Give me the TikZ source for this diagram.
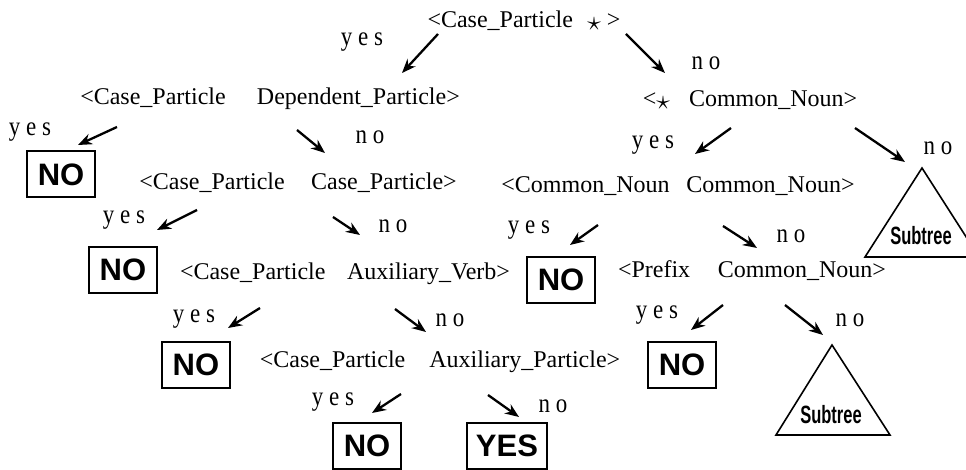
\documentclass[tikz,border=0pt]{standalone}
\usepackage{fontspec}
\setmainfont{Liberation Serif}
\setsansfont{Liberation Sans}
\usetikzlibrary{arrows.meta}
\newcommand{\sstar}{\raisebox{-1.2pt}{\scalebox{1.15}{$\star$}}}
\newcommand{\subtreetext}{\scalebox{0.66}[1]{\sffamily\bfseries Subtree}}
\newcommand{\lbl}[1]{\scalebox{0.85}[1]{#1}}
\begin{document}
\begin{tikzpicture}[x=0.5pt,y=-0.5pt,
  cond/.style={font=\fontsize{12}{14}\selectfont, inner sep=0pt, anchor=base},
  lab/.style={font=\fontsize{13.5}{16}\selectfont, inner sep=0pt},
  res/.style={draw, line width=1pt, font=\fontsize{15.5}{18}\selectfont\sffamily\bfseries,
              minimum width=34pt, minimum height=23pt, inner sep=0pt},
  arr/.style={line width=1.15pt, -{Stealth[length=7pt,width=5.5pt]}},
  tri/.style={line width=0.8pt, line join=miter},
  sub/.style={font=\fontsize{12.5}{14}\selectfont, inner sep=0pt}
]
\useasboundingbox (0,0) rectangle (966,470);
\clip (0,0) rectangle (966,470);

% condition nodes
\node[cond] (root) at (524,28) {<Case\_Particle\hspace{0.6em}\sstar\hspace{0.25em}>};
\node[cond] (b1) at (270,105) {<Case\_Particle\hspace{1.3em}Dependent\_Particle>};
\node[cond] (b2) at (750,107) {<\sstar\hspace{0.8em}Common\_Noun>};
\node[cond] (c1) at (298,190) {<Case\_Particle\hspace{1.1em}Case\_Particle>};
\node[cond] (c2) at (678,193) {<Common\_Noun\hspace{0.7em}Common\_Noun>};
\node[cond] (d1) at (345,280) {<Case\_Particle\hspace{0.9em}Auxiliary\_Verb>};
\node[cond] (d2) at (752,278) {<Prefix\hspace{1.15em}Common\_Noun>};
\node[cond] (e1) at (440,368) {<Case\_Particle\hspace{1em}Auxiliary\_Particle>};

% result boxes
\node[res] (no1) at (61,174.5) {NO};
\node[res] (no2) at (123,270) {NO};
\node[res] (no3) at (561,280) {NO};
\node[res] (no4) at (196,365) {NO};
\node[res] (no5) at (682,365) {NO};
\node[res] (no6) at (367,446) {NO};
\node[res, minimum width=40pt] (yes1) at (507,446) {YES};

% subtrees
\coordinate (t1a) at (922,168);
\coordinate (t1l) at (865,257);
\coordinate (t1r) at (979,257);
\draw[tri] (t1l) -- (t1a) -- (t1r) -- cycle;
\node[sub] (s1) at (921,236) {\subtreetext};
\coordinate (t2a) at (832,345);
\coordinate (t2l) at (776,435);
\coordinate (t2r) at (890,435);
\draw[tri] (t2l) -- (t2a) -- (t2r) -- cycle;
\node[sub] (s2) at (831,415) {\subtreetext};

% branch labels
\node[lab] (lr1) at (362,42) {\lbl{y e s}};
\node[lab] (lr2) at (706,63) {\lbl{n o}};
\node[lab] (lb1) at (30,132) {\lbl{y e s}};
\node[lab] (lb2) at (370,137) {\lbl{n o}};
\node[lab] (lb3) at (653,145) {\lbl{y e s}};
\node[lab] (lb4) at (938,148) {\lbl{n o}};
\node[lab] (lc1) at (124,220) {\lbl{y e s}};
\node[lab] (lc2) at (393,226) {\lbl{n o}};
\node[lab] (lc3) at (529,230) {\lbl{y e s}};
\node[lab] (lc4) at (791,236) {\lbl{n o}};
\node[lab] (ld1) at (194,319) {\lbl{y e s}};
\node[lab] (ld2) at (450,320) {\lbl{n o}};
\node[lab] (ld3) at (657,315) {\lbl{y e s}};
\node[lab] (ld4) at (850,320) {\lbl{n o}};
\node[lab] (le1) at (333,402) {\lbl{y e s}};
\node[lab] (le2) at (553,406) {\lbl{n o}};

% arrows
\coordinate (a1s) at (438,34);  \coordinate (a1e) at (402,73);
\coordinate (a2s) at (626,34);  \coordinate (a2e) at (665,73);
\coordinate (a3s) at (117,127); \coordinate (a3e) at (78,145);
\coordinate (a4s) at (297,130); \coordinate (a4e) at (325,153);
\coordinate (a5s) at (731,128); \coordinate (a5e) at (695,154);
\coordinate (a6s) at (855,128); \coordinate (a6e) at (905,162);
\coordinate (a7s) at (197,210); \coordinate (a7e) at (157,230);
\coordinate (a8s) at (333,217); \coordinate (a8e) at (360,235);
\coordinate (a9s) at (598,225); \coordinate (a9e) at (570,245);
\coordinate (a10s) at (723,226); \coordinate (a10e) at (757,248);
\coordinate (a11s) at (260,308); \coordinate (a11e) at (228,328);
\coordinate (a12s) at (395,309); \coordinate (a12e) at (426,332);
\coordinate (a13s) at (723,305); \coordinate (a13e) at (691,330);
\coordinate (a14s) at (785,305); \coordinate (a14e) at (823,335);
\coordinate (a15s) at (401,394); \coordinate (a15e) at (372,413);
\coordinate (a16s) at (488,395); \coordinate (a16e) at (519,417);
\foreach \i in {1,...,16} { \draw[arr] (a\i s) -- (a\i e); }
\end{tikzpicture}
\end{document}
